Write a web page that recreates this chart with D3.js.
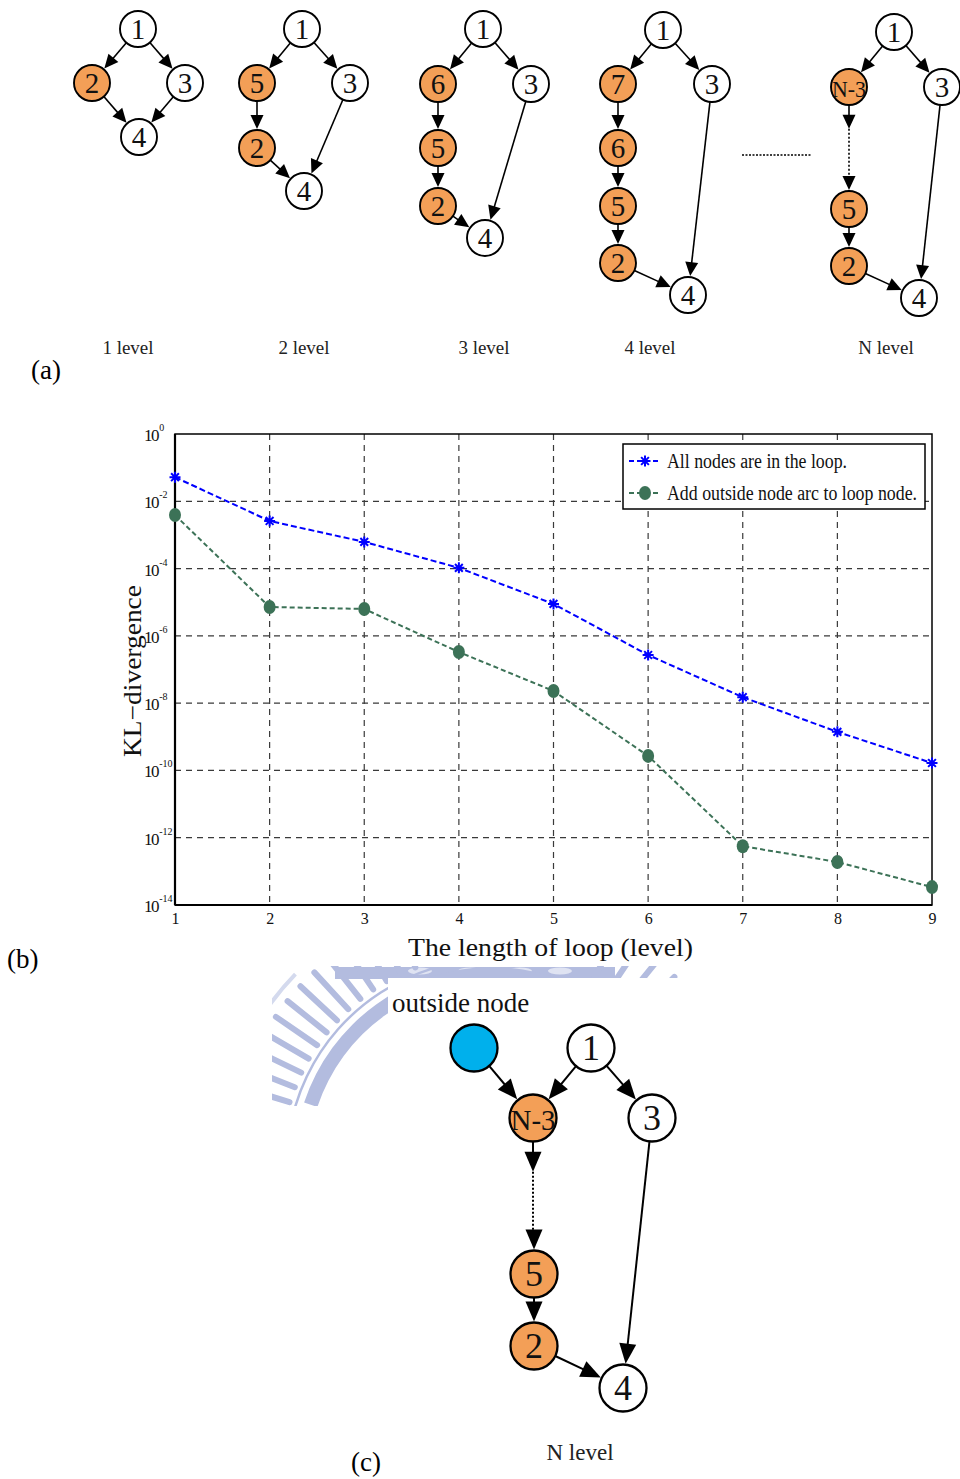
<!DOCTYPE html>
<html>
<head>
<meta charset="utf-8">
<script src="https://cdn.jsdelivr.net/npm/d3@7"></script>
<style>
  body { margin: 0; background: #fff; }
  svg { display: block; font-family: "Liberation Serif", "DejaVu Serif", serif; }
</style>
</head>
<body>
<div id="fig"></div>
<script>
// ---- chart data (b) ----
var levels = [1, 2, 3, 4, 5, 6, 7, 8, 9];
var loopOnly = [5.2e-2, 2.6e-3, 6.2e-4, 1.05e-4, 8.9e-6, 2.7e-7, 1.5e-8, 1.4e-9, 1.66e-10];
var withOutside = [3.9e-3, 7.2e-6, 6.3e-6, 3.3e-7, 2.3e-8, 2.7e-10, 5.6e-13, 1.9e-13, 3.4e-14];
var yExps = [0, -2, -4, -6, -8, -10, -12, -14];
var seriesNames = ["All nodes are in the loop.", "Add outside node arc to loop node."];

// ---- diagram structure (a) and (c) ----
var levelLabels = ["1 level", "2 level", "3 level", "4 level", "N level"];
var diagrams = [
  { nodes: [["1",138,29,0],["2",92,83,1],["3",185,83,0],["4",139,137,0]],
    edges: [["1","2"],["1","3"],["2","4"],["3","4"]], lx: 128 },
  { nodes: [["1",302,29,0],["5",257,83,1],["3",350,83,0],["2",257,148,1],["4",304,191,0]],
    edges: [["1","5"],["1","3"],["5","2"],["2","4"],["3","4"]], lx: 304 },
  { nodes: [["1",483,29,0],["6",438,84,1],["3",531,84,0],["5",438,148,1],["2",438,206,1],["4",485,238,0]],
    edges: [["1","6"],["1","3"],["6","5"],["5","2"],["2","4"],["3","4"]], lx: 484 },
  { nodes: [["1",663,30,0],["7",618,84,1],["3",712,84,0],["6",618,148,1],["5",618,206,1],["2",618,263,1],["4",688,295,0]],
    edges: [["1","7"],["1","3"],["7","6"],["6","5"],["5","2"],["2","4"],["3","4"]], lx: 650 },
  { nodes: [["1",894,32,0],["N-3",849,87,1],["3",942,87,0],["5",849,209,1],["2",849,266,1],["4",919,298,0]],
    edges: [["1","N-3"],["1","3"],["5","2"],["2","4"],["3","4"]], dotted: ["N-3","5"], lx: 886 }
];
var diagramC = {
  nodes: [["",474,1048,2],["1",591,1048,0],["N-3",533,1118,1],["3",652,1118,0],["5",534,1274,1],["2",534,1346,1],["4",623,1388,0]],
  edges: [["","N-3"],["1","N-3"],["1","3"],["5","2"],["2","4"],["3","4"]], dotted: ["N-3","5"]
};

var fills = ["#ffffff", "#f39f57", "#00b0ec"];

var svg = d3.select("#fig").append("svg").attr("width", 960).attr("height", 1479);

// ---------- diagrams ----------
function drawArrow(g, x1, y1, x2, y2, head, hw, opts) {
  var dx = x2 - x1, dy = y2 - y1, len = Math.sqrt(dx*dx + dy*dy);
  var ux = dx / len, uy = dy / len, nx = -uy, ny = ux;
  var bx = x2 - ux*head, by = y2 - uy*head;
  g.append("line").attr("x1", x1).attr("y1", y1).attr("x2", bx + ux*2).attr("y2", by + uy*2)
    .attr("stroke", "#000").attr("stroke-width", opts.sw)
    .attr("stroke-dasharray", opts.dash || null);
  g.append("path")
    .attr("d", "M" + x2 + "," + y2 + "L" + (bx + nx*hw/2) + "," + (by + ny*hw/2) +
               "L" + (bx - nx*hw/2) + "," + (by - ny*hw/2) + "Z")
    .attr("fill", "#000");
}

function drawDiagram(d, r, fs, head, hw, sw) {
  var g = svg.append("g");
  var pos = {};
  d.nodes.forEach(function(n) { pos[n[0]] = n; });
  d.edges.forEach(function(e) {
    var a = pos[e[0]], b = pos[e[1]];
    var dx = b[1] - a[1], dy = b[2] - a[2], len = Math.sqrt(dx*dx + dy*dy);
    var ux = dx/len, uy = dy/len;
    drawArrow(g, a[1] + ux*r, a[2] + uy*r, b[1] - ux*(r+1), b[2] - uy*(r+1), head, hw, {sw: sw});
  });
  if (d.dotted) {
    var a = pos[d.dotted[0]], b = pos[d.dotted[1]];
    var y0 = a[2] + r, y3 = b[2] - r - 1;
    var gap = (y3 - y0);
    // solid stub with arrow right below the first node
    drawArrow(g, a[1], y0, a[1], y0 + gap*0.28, head, hw, {sw: sw});
    // dotted run ending in an arrow on the second node
    g.append("line").attr("x1", a[1]).attr("y1", y0 + gap*0.28).attr("x2", a[1]).attr("y2", y3 - head + 1)
      .attr("stroke", "#000").attr("stroke-width", sw).attr("stroke-dasharray", "2,2");
    g.append("path")
      .attr("d", "M" + b[1] + "," + y3 + "L" + (b[1] - hw/2) + "," + (y3 - head) + "L" + (b[1] + hw/2) + "," + (y3 - head) + "Z")
      .attr("fill", "#000");
  }
  var nodes = g.selectAll("g.node").data(d.nodes).enter().append("g")
    .attr("transform", function(n) { return "translate(" + n[1] + "," + n[2] + ")"; });
  nodes.append("circle").attr("r", r)
    .attr("fill", function(n) { return fills[n[3]]; })
    .attr("stroke", "#000").attr("stroke-width", sw + 0.3);
  nodes.append("text")
    .attr("text-anchor", "middle")
    .attr("y", fs * 0.34)
    .attr("font-size", function(n) { return n[0].length > 1 ? fs * 0.8 : fs; })
    .attr("textLength", function(n) { return n[0].length > 1 ? r * 2 - 2 : null; })
    .attr("lengthAdjust", "spacingAndGlyphs")
    .attr("fill", "#111")
    .text(function(n) { return n[0]; });
}

diagrams.forEach(function(d, i) {
  drawDiagram(d, 18, 29, 14, 13, 1.6);
  svg.append("text").attr("x", d.lx).attr("y", 354).attr("text-anchor", "middle")
    .attr("font-size", 19).attr("fill", "#222").text(levelLabels[i]);
});
svg.append("line").attr("x1", 742).attr("x2", 811).attr("y1", 155).attr("y2", 155)
  .attr("stroke", "#000").attr("stroke-width", 1.5).attr("stroke-dasharray", "2,1.5");
svg.append("text").attr("x", 31).attr("y", 379).attr("font-size", 27).text("(a)");

// ---------- plot (b) ----------
var margin = {top: 434, left: 175, right: 28, bottom: 574};
var plotW = 960 - margin.left - margin.right;
var plotH = 1479 - margin.top - margin.bottom;

var x = d3.scaleLinear().domain([1, 9]).range([0, plotW]);
var y = d3.scaleLog().domain([1e-14, 1]).range([plotH, 0]);

var plot = svg.append("g").attr("transform", "translate(" + margin.left + "," + margin.top + ")");

// grid
plot.append("g").selectAll("line").data(yExps.slice(1, -1)).enter().append("line")
  .attr("x1", 0).attr("x2", plotW)
  .attr("y1", function(e) { return y(Math.pow(10, e)); })
  .attr("y2", function(e) { return y(Math.pow(10, e)); })
  .attr("stroke", "#3a3a3a").attr("stroke-width", 1.2).attr("stroke-dasharray", "6,5");
plot.append("g").selectAll("line").data(levels.slice(1, -1)).enter().append("line")
  .attr("y1", 0).attr("y2", plotH)
  .attr("x1", function(d) { return x(d); }).attr("x2", function(d) { return x(d); })
  .attr("stroke", "#3a3a3a").attr("stroke-width", 1.2).attr("stroke-dasharray", "6,5");

// frame
plot.append("rect").attr("width", plotW).attr("height", plotH)
  .attr("fill", "none").attr("stroke", "#000").attr("stroke-width", 1.5);
plot.append("line").attr("x1", 0).attr("x2", 0).attr("y1", 0).attr("y2", plotH)
  .attr("stroke", "#000").attr("stroke-width", 2.2);
plot.append("line").attr("x1", 0).attr("x2", plotW).attr("y1", plotH).attr("y2", plotH)
  .attr("stroke", "#000").attr("stroke-width", 2.2);

// x axis labels
var xAxis = plot.append("g").attr("transform", "translate(0," + plotH + ")")
  .call(d3.axisBottom(x).tickValues(levels).tickFormat(d3.format("d")).tickSize(0).tickPadding(8));
xAxis.select(".domain").remove();
xAxis.selectAll("text").attr("font-family", "Liberation Serif").attr("font-size", 16).attr("fill", "#111");

// y axis labels 10^e
var yl = plot.append("g").selectAll("text").data(yExps).enter().append("text")
  .attr("x", -31)
  .attr("y", function(e) { return y(Math.pow(10, e)) + 7; })
  .attr("font-size", 17).attr("letter-spacing", -1.4).attr("fill", "#111");
yl.append("tspan").text("10");
yl.append("tspan").attr("dy", -10).attr("dx", 1).attr("font-size", 10).attr("letter-spacing", 0)
  .text(function(e) { return e === 0 ? "0" : "-" + Math.abs(e); });

// lines
var series = [
  { name: seriesNames[0], values: loopOnly, color: "#0000ff", marker: "star" },
  { name: seriesNames[1], values: withOutside, color: "#3c7257", marker: "dot" }
];
var line = d3.line().x(function(d, i) { return x(levels[i]); }).y(function(d) { return y(d); });

function starPath(s) {
  var p = "";
  [0, 45, 90, 135].forEach(function(a) {
    var r = a * Math.PI / 180, cx = Math.cos(r) * s, cy = Math.sin(r) * s;
    p += "M" + (-cx) + "," + (-cy) + "L" + cx + "," + cy;
  });
  return p;
}

function drawMarker(g, m, color) {
  if (m === "star") {
    g.append("path").attr("d", starPath(5.5)).attr("stroke", color).attr("stroke-width", 2).attr("fill", "none");
  } else {
    g.append("ellipse").attr("rx", 6).attr("ry", 7).attr("fill", color);
  }
}

series.forEach(function(s) {
  plot.append("path").datum(s.values).attr("d", line)
    .attr("fill", "none").attr("stroke", s.color).attr("stroke-width", 2)
    .attr("stroke-dasharray", s.marker === "star" ? "6,3" : "5,3");
  s.values.forEach(function(v, i) {
    var g = plot.append("g").attr("transform", "translate(" + x(levels[i]) + "," + y(v) + ")");
    drawMarker(g, s.marker, s.color);
  });
});

// legend
var lg = svg.append("g").attr("transform", "translate(623,444)");
lg.append("rect").attr("width", 302).attr("height", 65).attr("fill", "#fff")
  .attr("stroke", "#000").attr("stroke-width", 1.5);
series.forEach(function(s, i) {
  var ly = 17 + i * 32;
  lg.append("line").attr("x1", 6).attr("x2", 38).attr("y1", ly).attr("y2", ly)
    .attr("stroke", s.color).attr("stroke-width", 2).attr("stroke-dasharray", "5,3");
  drawMarker(lg.append("g").attr("transform", "translate(22," + ly + ")"), s.marker, s.color);
  lg.append("text").attr("x", 44).attr("y", ly + 7).attr("font-size", 20)
    .attr("textLength", i === 0 ? 180 : 250).attr("lengthAdjust", "spacingAndGlyphs")
    .attr("fill", "#111").text(s.name);
});

// axis titles
svg.append("text").attr("transform", "translate(141,671)rotate(-90)")
  .attr("text-anchor", "middle").attr("font-size", 25)
  .attr("textLength", 172).attr("lengthAdjust", "spacingAndGlyphs")
  .attr("fill", "#111").text("KL\u2212divergence");
svg.append("text").attr("x", 408).attr("y", 956).attr("font-size", 26)
  .attr("textLength", 285).attr("lengthAdjust", "spacingAndGlyphs")
  .attr("fill", "#111").text("The length of  loop (level)");
svg.append("text").attr("x", 7).attr("y", 968).attr("font-size", 27).text("(b)");

// ---------- faint watermark behind (c) ----------
svg.append("clipPath").attr("id", "wm").append("rect")
  .attr("x", 272).attr("y", 966).attr("width", 425).attr("height", 140);
var wmColor = "#b3bcdf";
var wmOuter = svg.append("g").attr("clip-path", "url(#wm)");
// flat band of the seal's ring, peeking above the (c) image
wmOuter.append("rect").attr("x", 335).attr("y", 967).attr("width", 280).attr("height", 12).attr("fill", wmColor);
[420, 470, 520, 560].forEach(function(cx) {
  wmOuter.append("ellipse").attr("cx", cx).attr("cy", 971).attr("rx", 12).attr("ry", 3.5).attr("fill", "#dfe3f2");
});
var wm = wmOuter.append("g").attr("transform", "translate(492,1165)");
var arc = d3.arc();
wm.append("path")
  .attr("d", arc({innerRadius: 184, outerRadius: 198, startAngle: -1.25, endAngle: 1.25}))
  .attr("fill", wmColor);
wm.append("path")
  .attr("d", arc({innerRadius: 204, outerRadius: 206.5, startAngle: -1.4, endAngle: -0.3}))
  .attr("fill", wmColor);
d3.range(-1.42, -0.3, 0.075).concat(d3.range(0.5, 0.85, 0.09)).forEach(function(a) {
  wm.append("line").attr("stroke", wmColor).attr("stroke-width", 6).attr("stroke-linecap", "round")
    .attr("x1", Math.sin(a) * 212).attr("y1", -Math.cos(a) * 212)
    .attr("x2", Math.sin(a) * 262).attr("y2", -Math.cos(a) * 262);
});
wm.append("path")
  .attr("d", arc({innerRadius: 272, outerRadius: 276, startAngle: -1.5, endAngle: -0.8}))
  .attr("fill", "#d4daee");
svg.append("rect").attr("x", 388).attr("y", 978).attr("width", 572).attr("height", 501).attr("fill", "#fff");

// ---------- diagram (c) ----------
svg.append("text").attr("x", 392).attr("y", 1012).attr("font-size", 27).attr("fill", "#111").text("outside node");
drawDiagram(diagramC, 23.5, 36, 20, 17, 2);
svg.append("text").attr("x", 580).attr("y", 1460).attr("text-anchor", "middle")
  .attr("font-size", 23).attr("fill", "#222").text("N level");
svg.append("text").attr("x", 351).attr("y", 1471).attr("font-size", 27).text("(c)");
</script>
</body>
</html>
